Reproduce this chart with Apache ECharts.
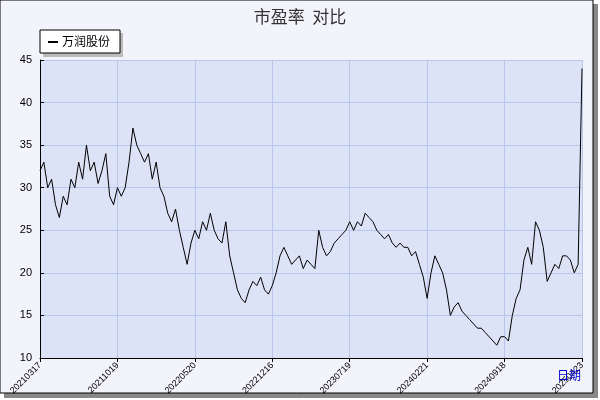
<!DOCTYPE html><html><head><meta charset="utf-8">
<script src="https://cdn.jsdelivr.net/npm/echarts@6/dist/echarts.min.js"></script>
<style>body{margin:0;background:#fff}#c{width:600px;height:400px}</style></head><body><div id="c"></div>
<script>
const tickLabels=['20210317','20211019','20220520','20221216','20230719','20240221','20240918','20250423'];
const peValues=[
32,33,30,31,28,26.5,29,28,31,30,33,31,35,32,33,30.5,32,34,29,28,
30,29,30,33,37,35,34,33,34,31,33,30,29,27,26,27.5,25,23,21,23.5,
25,24,26,25,27,25,24,23.5,26,22,20,18,17,16.5,18,19,18.5,19.5,18,17.5,
18.5,20,22,23,22,21,21.5,22,20.5,21.5,21,20.5,25,23,22,22.5,23.5,24,24.5,25,
26,25,26,25.5,27,26.5,26,25,24.5,24,24.5,23.5,23,23.5,23,23,22,22.5,21,19.5,
17,20,22,21,20,18,15,16,16.5,15.5,15,14.5,14,13.5,13.5,13,12.5,12,11.5,12.5,
12.5,12,15,17,18,21.5,23,21,26,25,23,19,20,21,20.5,22,22,21.5,20,21,44];
const cats=peValues.map((v,i)=>i%20===0?tickLabels[i/20]:'d'+i);
const chart=echarts.init(document.getElementById('c'));
chart.setOption({
backgroundColor:'#fff',
graphic:[
{type:'rect',shape:{x:4,y:4,width:594,height:394},style:{fill:'#888'},z:-10},
{type:'rect',shape:{x:0,y:0,width:593,height:393},style:{fill:'#f3f3fb',stroke:'#000',lineWidth:1},z:-9},
{type:'rect',shape:{x:43,y:33,width:80,height:24},style:{fill:'#bbb'},z:5},
{type:'rect',shape:{x:40,y:30,width:80,height:23},style:{fill:'#fff',stroke:'#000'},z:6},
{type:'line',shape:{x1:48,y1:42,x2:58,y2:42},style:{stroke:'#000',lineWidth:2},z:7},
{type:'text',left:62,top:35,style:{text:'万润股份',fontSize:12,fill:'#000',fontFamily:'Noto Sans CJK SC'},z:7},
{type:'text',left:557,top:369,style:{text:'日期',fontSize:12,fill:'#0000cc',fontFamily:'Noto Sans CJK SC'},z:7}
],
title:{text:'市盈率  对比',left:'center',top:3,textStyle:{fontSize:17,fontWeight:'normal',color:'#333',fontFamily:'Noto Sans CJK SC'}},
grid:{left:40,right:18,top:60,bottom:42,backgroundColor:'#dde3f7',show:true,borderWidth:0},
xAxis:{type:'category',data:cats,boundaryGap:false,
axisLine:{lineStyle:{color:'#000'}},
axisTick:{interval:(i)=>i%20===0,inside:false,length:4,lineStyle:{color:'#000'}},
axisLabel:{interval:(i)=>i%20===0,rotate:45,fontSize:9,color:'#000',margin:6},
splitLine:{show:true,interval:(i)=>i%20===0,lineStyle:{color:'#b8c6ea'}}},
yAxis:{type:'value',min:10,max:45,interval:5,
axisLine:{show:true,lineStyle:{color:'#000'}},
axisTick:{show:true,inside:true,length:4,lineStyle:{color:'#000'}},
axisLabel:{fontSize:11,color:'#000'},
splitLine:{lineStyle:{color:'#b8c6ea'}}},
series:[{type:'line',data:peValues,symbol:'none',lineStyle:{color:'#000',width:1},animation:false}]
});
</script></body></html>
